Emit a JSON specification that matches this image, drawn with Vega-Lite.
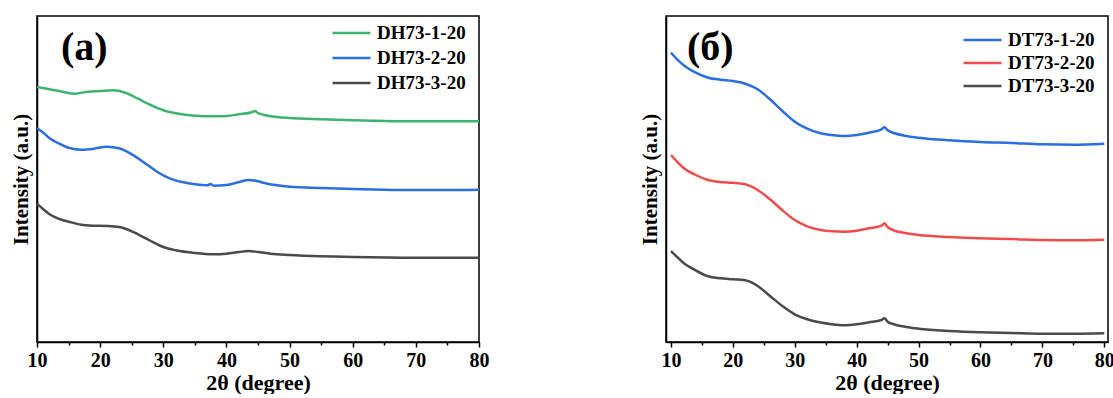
{
  "$schema": "https://vega.github.io/schema/vega-lite/v6.json",
  "padding": {"left": 9, "top": 15, "right": 0, "bottom": 0},
  "background": "white",
  "config": {
    "view": {"stroke": "#000", "strokeWidth": 1.5},
    "axis": {
      "labelFont": "Liberation Serif", "titleFont": "Liberation Serif",
      "labelFontWeight": "bold", "titleFontWeight": "bold",
      "labelColor": "#000", "titleColor": "#000",
      "domainColor": "#000", "tickColor": "#000",
      "domainWidth": 1.5, "tickWidth": 1.5, "grid": false
    },
    "legend": {
      "labelFont": "Liberation Serif", "labelFontWeight": "bold", "labelFontSize": 19, "labelColor": "#000",
      "symbolType": "stroke", "symbolSize": 1444, "symbolStrokeWidth": 2.5, "clipHeight": 20,
      "labelOffset": 5, "padding": 0, "title": null
    }
  },
  "datasets": {
    "a": [
      {"theta": 10, "intensity": 255, "sample": "DH73-1-20"},
      {"theta": 12, "intensity": 252.7, "sample": "DH73-1-20"},
      {"theta": 14, "intensity": 250.3, "sample": "DH73-1-20"},
      {"theta": 16, "intensity": 248.3, "sample": "DH73-1-20"},
      {"theta": 18, "intensity": 250.3, "sample": "DH73-1-20"},
      {"theta": 20, "intensity": 251, "sample": "DH73-1-20"},
      {"theta": 22, "intensity": 251.7, "sample": "DH73-1-20"},
      {"theta": 24, "intensity": 249.3, "sample": "DH73-1-20"},
      {"theta": 26, "intensity": 243.3, "sample": "DH73-1-20"},
      {"theta": 28, "intensity": 237, "sample": "DH73-1-20"},
      {"theta": 30, "intensity": 231.7, "sample": "DH73-1-20"},
      {"theta": 32, "intensity": 228.7, "sample": "DH73-1-20"},
      {"theta": 35, "intensity": 226.3, "sample": "DH73-1-20"},
      {"theta": 38, "intensity": 225.7, "sample": "DH73-1-20"},
      {"theta": 40, "intensity": 226, "sample": "DH73-1-20"},
      {"theta": 42, "intensity": 227.7, "sample": "DH73-1-20"},
      {"theta": 44, "intensity": 229.7, "sample": "DH73-1-20"},
      {"theta": 44.5, "intensity": 231, "sample": "DH73-1-20"},
      {"theta": 45, "intensity": 229, "sample": "DH73-1-20"},
      {"theta": 46, "intensity": 227, "sample": "DH73-1-20"},
      {"theta": 48, "intensity": 225, "sample": "DH73-1-20"},
      {"theta": 50, "intensity": 224, "sample": "DH73-1-20"},
      {"theta": 55, "intensity": 222.7, "sample": "DH73-1-20"},
      {"theta": 60, "intensity": 221.7, "sample": "DH73-1-20"},
      {"theta": 65, "intensity": 221, "sample": "DH73-1-20"},
      {"theta": 70, "intensity": 220.7, "sample": "DH73-1-20"},
      {"theta": 75, "intensity": 220.7, "sample": "DH73-1-20"},
      {"theta": 80, "intensity": 220.7, "sample": "DH73-1-20"},

      {"theta": 10, "intensity": 213.7, "sample": "DH73-2-20"},
      {"theta": 11, "intensity": 209.3, "sample": "DH73-2-20"},
      {"theta": 12, "intensity": 203.7, "sample": "DH73-2-20"},
      {"theta": 14, "intensity": 197, "sample": "DH73-2-20"},
      {"theta": 15, "intensity": 194.3, "sample": "DH73-2-20"},
      {"theta": 17, "intensity": 192.3, "sample": "DH73-2-20"},
      {"theta": 19, "intensity": 193.3, "sample": "DH73-2-20"},
      {"theta": 21, "intensity": 195.3, "sample": "DH73-2-20"},
      {"theta": 23, "intensity": 193.7, "sample": "DH73-2-20"},
      {"theta": 25, "intensity": 187.7, "sample": "DH73-2-20"},
      {"theta": 27, "intensity": 179.3, "sample": "DH73-2-20"},
      {"theta": 29, "intensity": 170.3, "sample": "DH73-2-20"},
      {"theta": 31, "intensity": 163.7, "sample": "DH73-2-20"},
      {"theta": 33, "intensity": 160, "sample": "DH73-2-20"},
      {"theta": 35, "intensity": 157.7, "sample": "DH73-2-20"},
      {"theta": 37, "intensity": 156.7, "sample": "DH73-2-20"},
      {"theta": 37.5, "intensity": 158, "sample": "DH73-2-20"},
      {"theta": 38, "intensity": 156.3, "sample": "DH73-2-20"},
      {"theta": 40, "intensity": 157, "sample": "DH73-2-20"},
      {"theta": 42, "intensity": 160, "sample": "DH73-2-20"},
      {"theta": 43.5, "intensity": 162, "sample": "DH73-2-20"},
      {"theta": 45, "intensity": 160.7, "sample": "DH73-2-20"},
      {"theta": 46, "intensity": 159, "sample": "DH73-2-20"},
      {"theta": 48, "intensity": 156.7, "sample": "DH73-2-20"},
      {"theta": 50, "intensity": 155.3, "sample": "DH73-2-20"},
      {"theta": 55, "intensity": 154, "sample": "DH73-2-20"},
      {"theta": 60, "intensity": 153, "sample": "DH73-2-20"},
      {"theta": 65, "intensity": 152.3, "sample": "DH73-2-20"},
      {"theta": 70, "intensity": 152, "sample": "DH73-2-20"},
      {"theta": 75, "intensity": 152, "sample": "DH73-2-20"},
      {"theta": 80, "intensity": 152.3, "sample": "DH73-2-20"},

      {"theta": 10, "intensity": 138.3, "sample": "DH73-3-20"},
      {"theta": 11, "intensity": 132.7, "sample": "DH73-3-20"},
      {"theta": 12, "intensity": 127.7, "sample": "DH73-3-20"},
      {"theta": 14, "intensity": 122, "sample": "DH73-3-20"},
      {"theta": 15, "intensity": 120.3, "sample": "DH73-3-20"},
      {"theta": 17, "intensity": 117.3, "sample": "DH73-3-20"},
      {"theta": 19, "intensity": 116.3, "sample": "DH73-3-20"},
      {"theta": 21, "intensity": 116, "sample": "DH73-3-20"},
      {"theta": 23, "intensity": 115, "sample": "DH73-3-20"},
      {"theta": 24, "intensity": 113.3, "sample": "DH73-3-20"},
      {"theta": 26, "intensity": 107.7, "sample": "DH73-3-20"},
      {"theta": 28, "intensity": 101, "sample": "DH73-3-20"},
      {"theta": 30, "intensity": 95, "sample": "DH73-3-20"},
      {"theta": 32, "intensity": 91.7, "sample": "DH73-3-20"},
      {"theta": 35, "intensity": 89, "sample": "DH73-3-20"},
      {"theta": 38, "intensity": 87.7, "sample": "DH73-3-20"},
      {"theta": 40, "intensity": 88.3, "sample": "DH73-3-20"},
      {"theta": 42, "intensity": 90, "sample": "DH73-3-20"},
      {"theta": 43.5, "intensity": 91, "sample": "DH73-3-20"},
      {"theta": 45, "intensity": 90, "sample": "DH73-3-20"},
      {"theta": 47, "intensity": 88.3, "sample": "DH73-3-20"},
      {"theta": 50, "intensity": 87, "sample": "DH73-3-20"},
      {"theta": 55, "intensity": 85.7, "sample": "DH73-3-20"},
      {"theta": 60, "intensity": 85, "sample": "DH73-3-20"},
      {"theta": 70, "intensity": 84.3, "sample": "DH73-3-20"},
      {"theta": 80, "intensity": 84.3, "sample": "DH73-3-20"}
    ],
    "b": [
      {"theta": 10, "intensity": 289.3, "sample": "DT73-1-20"},
      {"theta": 11, "intensity": 282.7, "sample": "DT73-1-20"},
      {"theta": 12, "intensity": 277, "sample": "DT73-1-20"},
      {"theta": 14, "intensity": 269.3, "sample": "DT73-1-20"},
      {"theta": 16, "intensity": 264.3, "sample": "DT73-1-20"},
      {"theta": 18, "intensity": 262.3, "sample": "DT73-1-20"},
      {"theta": 20, "intensity": 261, "sample": "DT73-1-20"},
      {"theta": 22, "intensity": 258.3, "sample": "DT73-1-20"},
      {"theta": 24, "intensity": 252.7, "sample": "DT73-1-20"},
      {"theta": 26, "intensity": 242.7, "sample": "DT73-1-20"},
      {"theta": 28, "intensity": 231, "sample": "DT73-1-20"},
      {"theta": 30, "intensity": 220.3, "sample": "DT73-1-20"},
      {"theta": 32, "intensity": 213.3, "sample": "DT73-1-20"},
      {"theta": 34, "intensity": 209, "sample": "DT73-1-20"},
      {"theta": 36, "intensity": 207, "sample": "DT73-1-20"},
      {"theta": 38, "intensity": 206, "sample": "DT73-1-20"},
      {"theta": 40, "intensity": 207, "sample": "DT73-1-20"},
      {"theta": 42, "intensity": 209.3, "sample": "DT73-1-20"},
      {"theta": 44, "intensity": 212.7, "sample": "DT73-1-20"},
      {"theta": 44.5, "intensity": 214.7, "sample": "DT73-1-20"},
      {"theta": 45, "intensity": 211.7, "sample": "DT73-1-20"},
      {"theta": 46, "intensity": 209, "sample": "DT73-1-20"},
      {"theta": 48, "intensity": 206, "sample": "DT73-1-20"},
      {"theta": 50, "intensity": 204.3, "sample": "DT73-1-20"},
      {"theta": 55, "intensity": 201.7, "sample": "DT73-1-20"},
      {"theta": 60, "intensity": 200, "sample": "DT73-1-20"},
      {"theta": 65, "intensity": 199, "sample": "DT73-1-20"},
      {"theta": 70, "intensity": 197.7, "sample": "DT73-1-20"},
      {"theta": 75, "intensity": 197.3, "sample": "DT73-1-20"},
      {"theta": 80, "intensity": 198.3, "sample": "DT73-1-20"},

      {"theta": 10, "intensity": 187, "sample": "DT73-2-20"},
      {"theta": 11, "intensity": 180.3, "sample": "DT73-2-20"},
      {"theta": 12, "intensity": 174.3, "sample": "DT73-2-20"},
      {"theta": 14, "intensity": 167, "sample": "DT73-2-20"},
      {"theta": 16, "intensity": 162, "sample": "DT73-2-20"},
      {"theta": 18, "intensity": 160, "sample": "DT73-2-20"},
      {"theta": 20, "intensity": 159.3, "sample": "DT73-2-20"},
      {"theta": 22, "intensity": 157.7, "sample": "DT73-2-20"},
      {"theta": 24, "intensity": 152, "sample": "DT73-2-20"},
      {"theta": 26, "intensity": 142.7, "sample": "DT73-2-20"},
      {"theta": 28, "intensity": 131.7, "sample": "DT73-2-20"},
      {"theta": 30, "intensity": 122, "sample": "DT73-2-20"},
      {"theta": 32, "intensity": 115.7, "sample": "DT73-2-20"},
      {"theta": 34, "intensity": 112.3, "sample": "DT73-2-20"},
      {"theta": 36, "intensity": 110.7, "sample": "DT73-2-20"},
      {"theta": 38, "intensity": 110.3, "sample": "DT73-2-20"},
      {"theta": 40, "intensity": 111.3, "sample": "DT73-2-20"},
      {"theta": 42, "intensity": 113.7, "sample": "DT73-2-20"},
      {"theta": 44, "intensity": 116.3, "sample": "DT73-2-20"},
      {"theta": 44.5, "intensity": 118.7, "sample": "DT73-2-20"},
      {"theta": 45, "intensity": 115, "sample": "DT73-2-20"},
      {"theta": 46, "intensity": 111.7, "sample": "DT73-2-20"},
      {"theta": 48, "intensity": 108.7, "sample": "DT73-2-20"},
      {"theta": 50, "intensity": 107, "sample": "DT73-2-20"},
      {"theta": 55, "intensity": 105, "sample": "DT73-2-20"},
      {"theta": 60, "intensity": 103.7, "sample": "DT73-2-20"},
      {"theta": 65, "intensity": 103, "sample": "DT73-2-20"},
      {"theta": 70, "intensity": 102, "sample": "DT73-2-20"},
      {"theta": 75, "intensity": 101.7, "sample": "DT73-2-20"},
      {"theta": 80, "intensity": 102.3, "sample": "DT73-2-20"},

      {"theta": 10, "intensity": 91, "sample": "DT73-3-20"},
      {"theta": 11, "intensity": 85, "sample": "DT73-3-20"},
      {"theta": 12, "intensity": 79.3, "sample": "DT73-3-20"},
      {"theta": 14, "intensity": 71.7, "sample": "DT73-3-20"},
      {"theta": 16, "intensity": 65.7, "sample": "DT73-3-20"},
      {"theta": 18, "intensity": 63.7, "sample": "DT73-3-20"},
      {"theta": 20, "intensity": 62.7, "sample": "DT73-3-20"},
      {"theta": 22, "intensity": 61.7, "sample": "DT73-3-20"},
      {"theta": 24, "intensity": 56, "sample": "DT73-3-20"},
      {"theta": 26, "intensity": 46, "sample": "DT73-3-20"},
      {"theta": 28, "intensity": 36, "sample": "DT73-3-20"},
      {"theta": 30, "intensity": 27.7, "sample": "DT73-3-20"},
      {"theta": 32, "intensity": 22.7, "sample": "DT73-3-20"},
      {"theta": 34, "intensity": 19.7, "sample": "DT73-3-20"},
      {"theta": 36, "intensity": 17.7, "sample": "DT73-3-20"},
      {"theta": 38, "intensity": 16.7, "sample": "DT73-3-20"},
      {"theta": 40, "intensity": 17.7, "sample": "DT73-3-20"},
      {"theta": 42, "intensity": 19.7, "sample": "DT73-3-20"},
      {"theta": 44, "intensity": 22, "sample": "DT73-3-20"},
      {"theta": 44.5, "intensity": 23.7, "sample": "DT73-3-20"},
      {"theta": 45, "intensity": 20.3, "sample": "DT73-3-20"},
      {"theta": 46, "intensity": 17.7, "sample": "DT73-3-20"},
      {"theta": 48, "intensity": 15, "sample": "DT73-3-20"},
      {"theta": 50, "intensity": 13.3, "sample": "DT73-3-20"},
      {"theta": 55, "intensity": 11, "sample": "DT73-3-20"},
      {"theta": 60, "intensity": 9.7, "sample": "DT73-3-20"},
      {"theta": 65, "intensity": 9, "sample": "DT73-3-20"},
      {"theta": 70, "intensity": 8.3, "sample": "DT73-3-20"},
      {"theta": 75, "intensity": 8.3, "sample": "DT73-3-20"},
      {"theta": 80, "intensity": 8.7, "sample": "DT73-3-20"}
    ]
  },
  "resolve": {"scale": {"color": "independent"}, "legend": {"color": "independent"}},
  "spacing": 148,
  "hconcat": [
    {
      "width": 442, "height": 326,
      "resolve": {"axis": {"x": "independent"}},
      "layer": [
        {
          "data": {"name": "a"},
          "mark": {"type": "line", "strokeWidth": 2.5, "interpolate": "monotone"},
          "encoding": {
            "x": {"field": "theta", "type": "quantitative",
                  "scale": {"domain": [10, 80], "nice": false, "zero": false},
                  "axis": {"orient": "bottom", "title": "2θ (degree)", "values": [10,20,30,40,50,60,70,80], "labelFontSize": 20, "titleFontSize": 22, "tickSize": 5, "labelPadding": 3, "titlePadding": 2, "labelFlush": false}},
            "y": {"field": "intensity", "type": "quantitative",
                  "scale": {"domain": [0, 326], "nice": false},
                  "axis": {"title": "Intensity (a.u.)", "labels": false, "ticks": false, "titleFontSize": 21, "titlePadding": 6}},
            "color": {"field": "sample", "type": "nominal",
                      "scale": {"domain": ["DH73-1-20", "DH73-2-20", "DH73-3-20"], "range": ["#3cb46e", "#2b6de3", "#4a4a4a"]},
                      "legend": {"orient": "none", "legendX": 294, "legendY": 7, "rowPadding": 5}},
            "detail": {"field": "sample"}
          }
        },
        {
          "data": {"values": [{}]},
          "mark": {"type": "text", "font": "Liberation Serif", "fontWeight": "bold", "fontSize": 40, "align": "left", "baseline": "middle", "color": "#000"},
          "encoding": {
            "x": {"datum": 13.8, "type": "quantitative",
                  "axis": {"orient": "bottom", "title": null, "values": [15,25,35,45,55,65,75], "labels": false, "domain": false, "tickSize": 3}},
            "y": {"datum": 294, "type": "quantitative"},
            "text": {"value": "(a)"}
          }
        }
      ]
    },
    {
      "width": 442, "height": 326,
      "resolve": {"axis": {"x": "independent"}},
      "layer": [
        {
          "data": {"name": "b"},
          "mark": {"type": "line", "strokeWidth": 2.5, "interpolate": "monotone"},
          "encoding": {
            "x": {"field": "theta", "type": "quantitative",
                  "scale": {"domain": [9.2, 80.6], "nice": false, "zero": false},
                  "axis": {"orient": "bottom", "title": "2θ (degree)", "values": [10,20,30,40,50,60,70,80], "labelFontSize": 20, "titleFontSize": 22, "tickSize": 5, "labelPadding": 3, "titlePadding": 2, "labelFlush": false}},
            "y": {"field": "intensity", "type": "quantitative",
                  "scale": {"domain": [0, 326], "nice": false},
                  "axis": {"title": "Intensity (a.u.)", "labels": false, "ticks": false, "titleFontSize": 21, "titlePadding": 6}},
            "color": {"field": "sample", "type": "nominal",
                      "scale": {"domain": ["DT73-1-20", "DT73-2-20", "DT73-3-20"], "range": ["#2b6de3", "#f24b4b", "#4a4a4a"]},
                      "legend": {"orient": "none", "legendX": 296, "legendY": 14, "rowPadding": 3}},
            "detail": {"field": "sample"}
          }
        },
        {
          "data": {"values": [{}]},
          "mark": {"type": "text", "font": "Liberation Serif", "fontWeight": "bold", "fontSize": 40, "align": "left", "baseline": "middle", "color": "#000"},
          "encoding": {
            "x": {"datum": 12.6, "type": "quantitative",
                  "axis": {"orient": "bottom", "title": null, "values": [15,25,35,45,55,65,75], "labels": false, "domain": false, "tickSize": 3}},
            "y": {"datum": 294, "type": "quantitative"},
            "text": {"value": "(б)"}
          }
        }
      ]
    }
  ]
}
